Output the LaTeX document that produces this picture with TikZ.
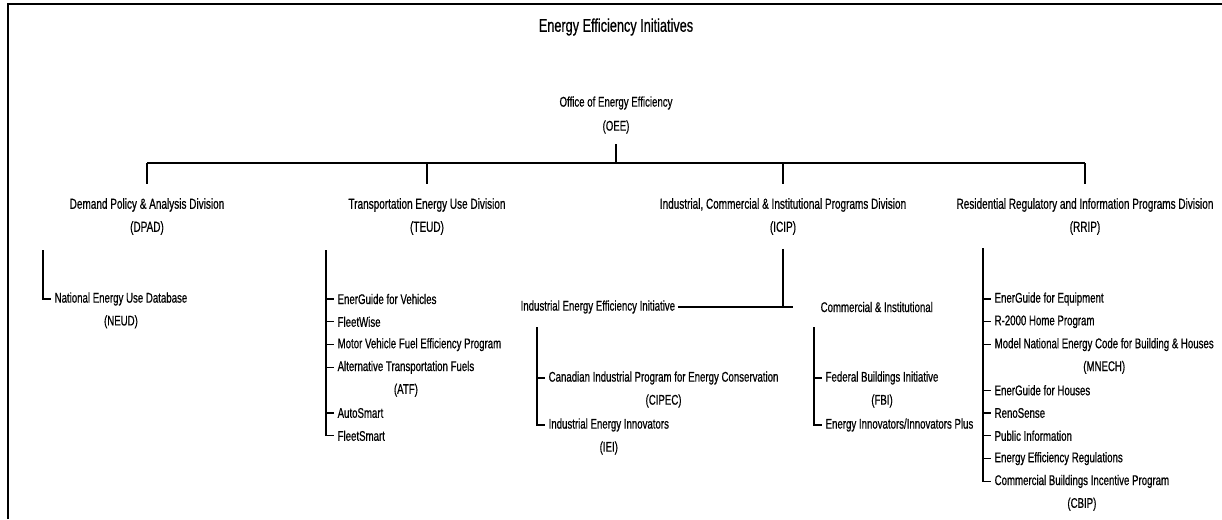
\documentclass[tikz,border=0pt]{standalone}
\usepackage{fontspec}
\setmainfont[FakeStretch=0.69,FakeBold=0.6]{Liberation Sans}
\begin{document}
\begin{tikzpicture}[x=1pt,y=-1pt,line width=1.3pt,
  every node/.style={inner sep=0pt,font=\fontsize{14}{23}\selectfont},
  titlebox/.style={font=\fontsize{18.4}{20}\selectfont},
  divbox/.style={align=center,outer ysep=14pt,font=\fontsize{14.5}{23}\selectfont},
  itembox/.style={anchor=west,inner xsep=3pt},
  subbox/.style={}]
\useasboundingbox (0,0) rectangle (1222,519);
\draw[line width=2pt] (8,519) -- (8,4) -- (1222,4);

\node[titlebox] (title) at (616,27) {Energy Efficiency Initiatives};
\node[align=center,font=\fontsize{14}{24}\selectfont] (oee) at (616,115) {Office of Energy Efficiency\\(OEE)};

\node[divbox] (dpad) at (147,216.5) {Demand Policy \& Analysis Division\\(DPAD)};
\node[divbox] (teud) at (427,216.5) {Transportation Energy Use Division\\(TEUD)};
\node[divbox] (icip) at (783,216.5) {Industrial, Commercial \& Institutional Programs Division\\(ICIP)};
\node[divbox] (rrip) at (1085,216.5) {Residential Regulatory and Information Programs Division\\(RRIP)};

\coordinate (bus) at (616,163);
\draw ([yshift=-10pt]oee.south) -- (oee.south |- bus);
\draw (dpad.north |- bus) -- (rrip.north |- bus);
\foreach \d in {dpad,teud,icip,rrip} \draw (\d.north |- bus) -- (\d.north);

% DPAD
\coordinate (dpadbar) at (43,250);
\node[itembox] (neud) at (51,299) {National Energy Use Database};
\node[subbox] (neuds) at ([yshift=-22.8pt]neud.center) {(NEUD)};
\draw (dpadbar) -- (dpadbar |- neud.west) -- (neud.west);

% TEUD
\coordinate (teudbar) at (326,250);
\node[itembox] (egv) at (334,299) {EnerGuide for Vehicles};
\node[itembox] (fw) at (334,321.8) {FleetWise};
\node[itembox] (mvfe) at (334,344.6) {Motor Vehicle Fuel Efficiency Program};
\node[itembox] (atf) at (334,367.4) {Alternative Transportation Fuels};
\node[subbox] (atfs) at ([yshift=-22.8pt]atf.center) {(ATF)};
\node[itembox] (as) at (334,413) {AutoSmart};
\node[itembox] (fsm) at (334,435.8) {FleetSmart};
\foreach \i in {egv,fw,mvfe,atf,as} \draw (teudbar |- \i.west) -- (\i.west);
\draw (teudbar) -- (teudbar |- fsm.west) -- (fsm.west);

% ICIP
\node[itembox,inner xsep=2pt] (ieei) at (518,307) {Industrial Energy Efficiency Initiative};
\node[itembox] (ci) at (817,307) {Commercial \& Institutional};
\coordinate (icend) at (793,307);
\draw (ieei.east) -- (icend);
\draw (icip.south) -- (icip.south |- icend);

\coordinate (ieeibar) at (537,327);
\node[itembox] (cipec) at (545,378) {Canadian Industrial Program for Energy Conservation};
\node[subbox] (cipecs) at ([yshift=-23pt]cipec.center) {(CIPEC)};
\node[itembox] (iei) at (545,425) {Industrial Energy Innovators};
\node[subbox] (ieis) at ([yshift=-23pt]iei.center) {(IEI)};
\draw (ieeibar |- cipec.west) -- (cipec.west);
\draw (ieeibar) -- (ieeibar |- iei.west) -- (iei.west);

\coordinate (cibar) at (814,327);
\node[itembox] (fbi) at (822,378) {Federal Buildings Initiative};
\node[subbox] (fbis) at ([yshift=-23pt]fbi.center) {(FBI)};
\node[itembox] (eip) at (822,425) {Energy Innovators/Innovators Plus};
\draw (cibar |- fbi.west) -- (fbi.west);
\draw (cibar) -- (cibar |- eip.west) -- (eip.west);

% RRIP
\coordinate (rripbar) at (983,248);
\node[itembox] (ege) at (991,299) {EnerGuide for Equipment};
\node[itembox] (r2k) at (991,321.8) {R-2000 Home Program};
\node[itembox] (mnech) at (991,344.6) {Model National Energy Code for Building \& Houses};
\node[subbox] (mnechs) at ([yshift=-22.8pt]mnech.center) {(MNECH)};
\node[itembox] (egh) at (991,390.2) {EnerGuide for Houses};
\node[itembox] (reno) at (991,413) {RenoSense};
\node[itembox] (pubi) at (991,435.8) {Public Information};
\node[itembox] (eer) at (991,458.6) {Energy Efficiency Regulations};
\node[itembox] (cbip) at (991,481.4) {Commercial Buildings Incentive Program};
\node[subbox] (cbips) at ([yshift=-22.8pt]cbip.center) {(CBIP)};
\foreach \i in {ege,r2k,mnech,egh,reno,pubi,eer} \draw (rripbar |- \i.west) -- (\i.west);
\draw (rripbar) -- (rripbar |- cbip.west) -- (cbip.west);
\end{tikzpicture}
\end{document}
